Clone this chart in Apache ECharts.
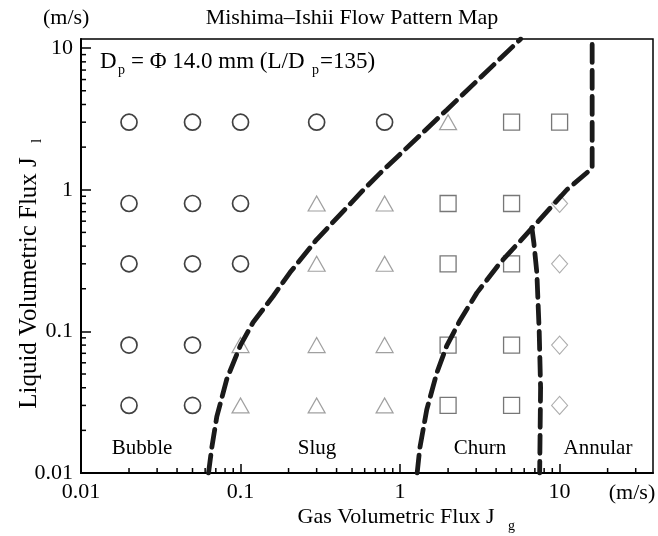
<!DOCTYPE html>
<html><head><meta charset="utf-8">
<script src="https://cdn.jsdelivr.net/npm/echarts@6/dist/echarts.min.js"></script>
<style>html,body{margin:0;padding:0;background:#fff}#c{width:658px;height:536px}</style>
</head><body><div id="c"></div>
<script>
// ---- data ----
const xTickLabels = ['0.01', '0.1', '1', '10'];
const yTickLabels = ['0.01', '0.1', '1', '10'];
const bubblePts = [[0.02,3],[0.05,3],[0.1,3],[0.3,3],[0.8,3],
  [0.02,0.8],[0.05,0.8],[0.1,0.8],
  [0.02,0.3],[0.05,0.3],[0.1,0.3],
  [0.02,0.08],[0.05,0.08],
  [0.02,0.03],[0.05,0.03]];
const slugPts = [[2,3],
  [0.3,0.8],[0.8,0.8],
  [0.3,0.3],[0.8,0.3],
  [0.1,0.08],[0.3,0.08],[0.8,0.08],
  [0.1,0.03],[0.3,0.03],[0.8,0.03]];
const churnPts = [[5,3],[10,3],
  [2,0.8],[5,0.8],
  [2,0.3],[5,0.3],
  [2,0.08],[5,0.08],
  [2,0.03],[5,0.03]];
const annularPts = [[10,0.8],[10,0.3],[10,0.08],[10,0.03]];
const bubbleSlugLine = [[0.063,0.01],[0.066,0.015],[0.071,0.025],[0.082,0.046],[0.1,0.08],[0.12,0.116],
  [0.16,0.177],[0.204,0.26],[0.3,0.445],[0.59,1],[0.75,1.31],[1.96,3.66],[5.7,11.6]];
const slugChurnLine = [[1.28,0.01],[1.33,0.015],[1.47,0.028],[1.7,0.051],[1.96,0.079],[2.38,0.12],
  [3.03,0.187],[4.24,0.305],[5.4,0.41],[6.86,0.55],[11.1,1.0],[16,1.42],[16,11.6]];
const churnAnnularLine = [[6.7,0.54],[6.9,0.42],[7.2,0.26],[7.45,0.1],[7.6,0.04],[7.5,0.01]];
const regionLabels = ['Bubble', 'Slug', 'Churn', 'Annular'];

// ---- axis ranges / minor ticks ----
const xMin = 0.01, xMax = 38.5, yMin = 0.01, yMax = 11.6;
const xMinor = [], yMinor = [];
[0.01, 0.1, 1, 10].forEach(d => { for (let m = 2; m <= 9; m++) { const v = +(m*d).toPrecision(3); if (v < xMax) xMinor.push([v, yMin]); } });
[0.01, 0.1, 1, 10].forEach(d => { for (let m = 2; m <= 9; m++) { const v = +(m*d).toPrecision(3); if (v < yMax) yMinor.push([xMin, v]); } });

const FF = 'Liberation Serif';
const chart = echarts.init(document.getElementById('c'), null, {renderer: 'canvas'});

function lineSeries(data) {
  return {type: 'line', data: data, symbol: 'none', z: 5, silent: true,
    lineStyle: {color: '#1a1a1a', width: 4.8, type: [18, 8], cap: 'round'}};
}
function scatterSeries(data, symbol, size, color, bw) {
  return {type: 'scatter', data: data, symbol: symbol, symbolSize: size, z: 3, silent: true,
    itemStyle: {color: 'rgba(255,255,255,0)', borderColor: color, borderWidth: bw}};
}
function txt(text, x, y, size, align, extra) {
  return Object.assign({type: 'text', x: x, y: y, silent: true,
    style: {text: text, font: size + 'px "' + FF + '"', fill: '#000', align: align || 'left', verticalAlign: 'middle'}}, extra || {});
}

chart.setOption({
  animation: false,
  backgroundColor: '#fff',
  grid: {left: 81, right: 5, top: 39, bottom: 63, show: true, borderColor: '#000', borderWidth: 1.5, backgroundColor: 'transparent'},
  xAxis: {type: 'log', logBase: 10, min: xMin, max: xMax,
    axisLine: {show: true, lineStyle: {color: '#000', width: 2}},
    axisTick: {show: true, inside: true, length: 9, lineStyle: {color: '#000', width: 1.5}},
    splitLine: {show: false},
    axisLabel: {show: true, color: '#000', fontFamily: FF, fontSize: 22, margin: 8, showMaxLabel: false,
      formatter: v => { const i = Math.round(Math.log10(v)) + 2; return xTickLabels[i] || ''; }}},
  yAxis: {type: 'log', logBase: 10, min: yMin, max: yMax,
    axisLine: {show: true, lineStyle: {color: '#000', width: 2}},
    axisTick: {show: true, inside: true, length: 10, lineStyle: {color: '#000', width: 1.5}},
    splitLine: {show: false},
    axisLabel: {show: true, color: '#000', fontFamily: FF, fontSize: 22, margin: 8, showMaxLabel: false,
      formatter: v => { const i = Math.round(Math.log10(v)) + 2; return yTickLabels[i] || ''; }}},
  series: [
    scatterSeries(bubblePts, 'circle', 16, '#111', 1.7),
    scatterSeries(slugPts, 'triangle', [17, 15], '#888', 1.2),
    scatterSeries(churnPts, 'rect', [16, 16], '#555', 1.3),
    scatterSeries(annularPts, 'diamond', [16, 18], '#999', 1.1),
    lineSeries(bubbleSlugLine),
    lineSeries(slugChurnLine),
    lineSeries(churnAnnularLine),
    {type: 'custom', data: xMinor, silent: true, z: 6, clip: false,
      renderItem: (p, api) => { const c = api.coord([api.value(0), api.value(1)]);
        return {type: 'line', shape: {x1: c[0], y1: c[1], x2: c[0], y2: c[1] - 5}, style: {stroke: '#000', lineWidth: 1.5}}; }},
    {type: 'custom', data: yMinor, silent: true, z: 6, clip: false,
      renderItem: (p, api) => { const c = api.coord([api.value(0), api.value(1)]);
        return {type: 'line', shape: {x1: c[0], y1: c[1], x2: c[0] + 5, y2: c[1]}, style: {stroke: '#000', lineWidth: 1.5}}; }}
  ],
  graphic: [
    txt('(m/s)', 43, 18, 22, 'left'),
    txt('Mishima\u2013Ishii Flow Pattern Map', 352, 18, 22, 'center'),
    txt('D', 100, 62, 23, 'left'),
    txt('p', 118, 70, 14, 'left'),
    txt('= \u03A6 14.0 mm (L/D', 131, 62, 23, 'left'),
    txt('p', 312, 70, 14, 'left'),
    txt('=135)', 320, 62, 23, 'left'),
    txt(regionLabels[0], 142, 448, 21, 'center'),
    txt(regionLabels[1], 317, 448, 21, 'center'),
    txt(regionLabels[2], 480, 448, 21, 'center'),
    txt(regionLabels[3], 598, 448, 21, 'center'),
    txt('(m/s)', 632, 493, 22, 'center'),
    txt('Gas Volumetric Flux J', 396, 517, 22, 'center'),
    txt('g', 508, 526, 14, 'left'),
    txt('Liquid Volumetric Flux J', 29, 283, 25, 'center', {rotation: Math.PI / 2}),
    txt('l', 37, 141, 15, 'center', {rotation: Math.PI / 2})
  ]
});
</script>
</body></html>
